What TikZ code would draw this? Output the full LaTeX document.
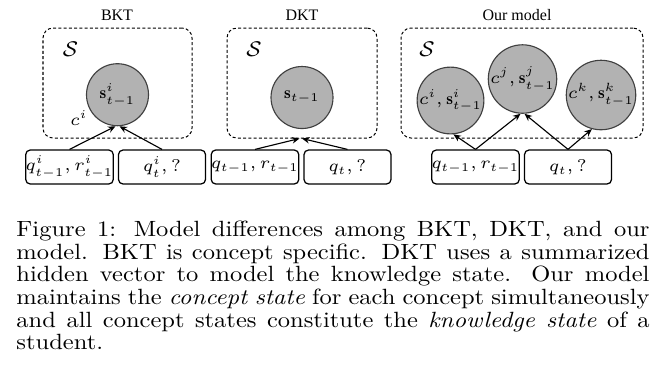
\RequirePackage{fix-cm}
\documentclass[tikz,border=0pt]{standalone}
\usepackage{graphicx}
\usepackage{fontspec}
\newfontfamily\titlefont{Liberation Serif}
\usetikzlibrary{arrows.meta}
\begin{document}
\begin{tikzpicture}[x=0.4pt,y=-0.4pt,
  panel/.style={draw, line width=0.4pt, dash pattern=on 1.2pt off 0.9pt, rounded corners=4pt, minimum height=44pt, inner sep=0pt},
  state/.style={circle, draw=black!75, fill=black!30, line width=0.45pt, minimum size=24.8pt, inner sep=0pt, font=\fontsize{6.8}{7.8}\selectfont},
  inbox/.style={draw, line width=0.5pt, rounded corners=1.8pt, minimum width=34.8pt, minimum height=13.6pt, inner sep=0pt, font=\fontsize{6.8}{7.8}\selectfont},
  title/.style={font=\titlefont\fontsize{6.4}{7}\selectfont, anchor=base, inner sep=0pt},
  setlbl/.style={font=\fontsize{8.5}{9}\selectfont, inner sep=0pt},
  arr/.style={-{Stealth[length=3pt,width=2.6pt]}, line width=0.45pt}]
\useasboundingbox (0,0) rectangle (664,383);
% panels
\node[panel, minimum width=59.6pt] (pb) at (117.5,83) {};
\node[panel, minimum width=60pt] (pd) at (302,83) {};
\node[panel, minimum width=96.8pt] (po) at (522,83) {};
% titles
\node[title] (tb) at (117,20.5) {BKT};
\node[title] (td) at (302,20.5) {DKT};
\node[title] (to) at (517,20.5) {Our model};
% set labels
\node[setlbl] (lb) at (70.5,49) {$\mathcal{S}$};
\node[setlbl] (ld) at (254,49) {$\mathcal{S}$};
\node[setlbl] (lo) at (427,49) {$\mathcal{S}$};
% states
\node[state] (sb) at (117.5,94.7) {$\mathbf{s}^{i}_{t-1}$};
\node[state] (sd) at (302,97.5) {$\mathbf{s}_{t-1}$};
\node[state] (ci) at (450.5,100.5) {$c^{i},\mathbf{s}^{i}_{t-1}$};
\node[state] (cj) at (522.5,79) {$c^{j},\mathbf{s}^{j}_{t-1}$};
\node[state] (ck) at (601,95) {$c^{k},\mathbf{s}^{k}_{t-1}$};
\node[inner sep=0pt, font=\fontsize{6.8}{7.8}\selectfont] (cb) at (79,118) {$c^{i}$};
% input boxes
\node[inbox] (b1) at (69.5,167) {$q^{i}_{t-1},r^{i}_{t-1}$};
\node[inbox] (b2) at (162,167) {$q^{i}_{t},?$};
\node[inbox] (d1) at (255,167) {$q_{t-1},r_{t-1}$};
\node[inbox] (d2) at (347.5,167) {$q_{t},?$};
\node[inbox] (o1) at (475.5,167) {$q_{t-1},r_{t-1}$};
\node[inbox] (o2) at (568,167) {$q_{t},?$};
% arrows
\draw[arr] (b1.north) -- ([xshift=-0.8pt]sb.south);
\draw[arr] (b2.north) -- ([xshift=0.8pt]sb.south);
\draw[arr] (d1.north) -- ([xshift=-1pt]pd.south);
\draw[arr] (d2.north) -- ([xshift=0pt]pd.south);
\draw[arr] (o1.north) -- (ci.275);
\draw[arr] (o1.north) -- ([xshift=-0.8pt]cj.south);
\draw[arr] (o2.north) -- ([xshift=0.8pt]cj.south);
\draw[arr] (o2.north) -- (ck.255);
% caption
\node[anchor=base west, inner sep=0pt] (cap) at (16,236.7) {\scalebox{1}[0.9]{\parbox[t]{253.2pt}{\fontsize{9.8}{10.05}\selectfont Figure 1: Model differences among BKT, DKT, and our model. BKT is concept specific. DKT uses a summarized hidden vector to model the knowledge state. Our model maintains the \emph{concept state} for each concept simultaneously and all concept states constitute the \emph{knowledge state} of a student.}}};
\end{tikzpicture}
\end{document}
